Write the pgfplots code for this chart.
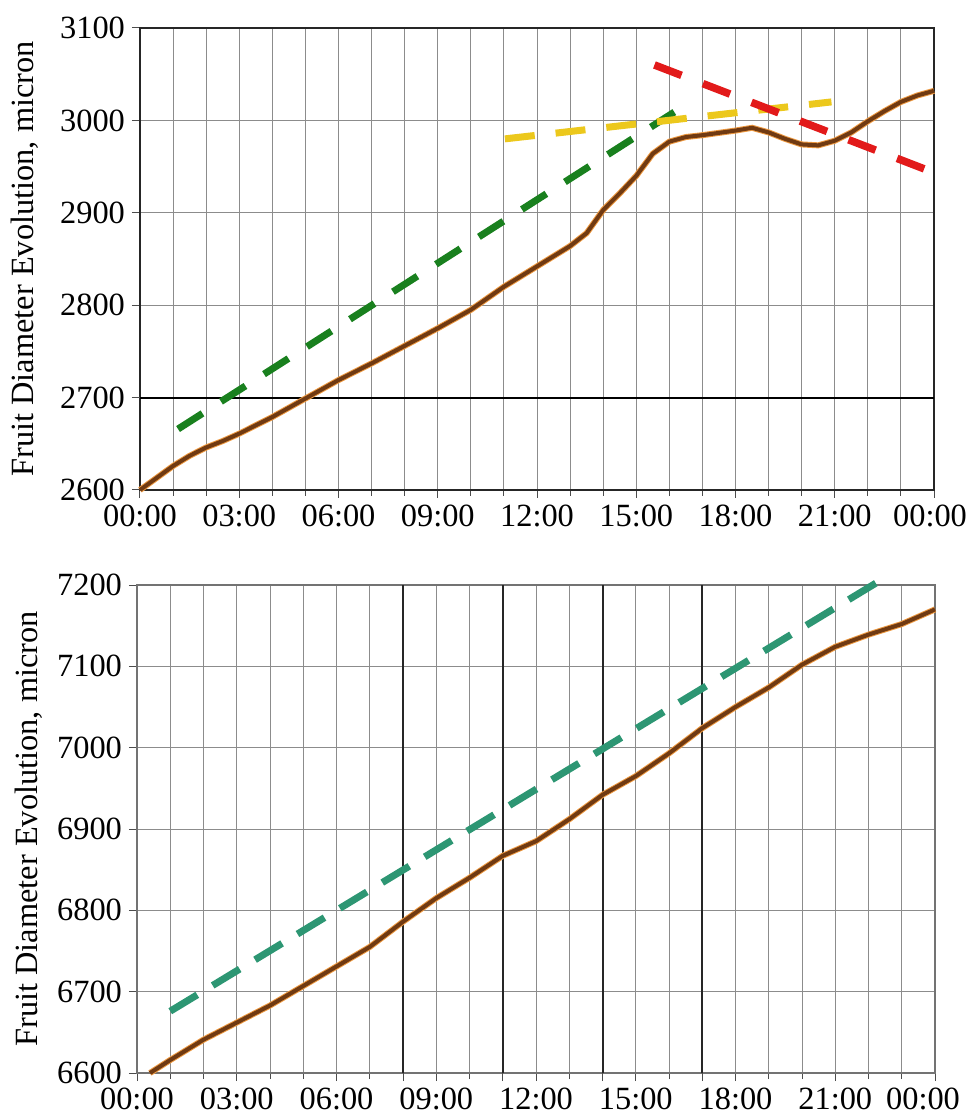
\documentclass[border=0pt]{standalone}
\usepackage{fontspec}
\setmainfont{Liberation Serif}
\usepackage{pgfplots}
\pgfplotsset{compat=1.18}
\definecolor{brownc}{RGB}{112,58,18}
\definecolor{orangec}{RGB}{236,152,64}
\definecolor{gridc}{RGB}{140,140,140}
\definecolor{dgreen}{RGB}{25,128,30}
\definecolor{goldc}{RGB}{236,200,28}
\definecolor{redc}{RGB}{226,26,26}
\definecolor{tealc}{RGB}{45,150,115}
\newcommand{\f}{\fontsize{16.2}{18}\selectfont}
\pgfplotsset{myax/.style={
  scale only axis, xmin=0, xmax=24, xtick={0,3,...,24},
  minor x tick num=2,
  tick pos=left, tick align=outside, major tick length=4pt, minor tick length=3pt,
  xmajorgrids, xminorgrids, ymajorgrids,
  grid style={gridc, line width=0.5pt},
  minor grid style={gridc, line width=0.5pt},
  major grid style={gridc, line width=0.5pt},
  tick style={black!70, line width=0.5pt},
  tick label style={font=\f},
  /pgf/number format/assume math mode=true,
  /pgf/number format/1000 sep={},
  ylabel={Fruit Diameter Evolution, micron},
  every axis y label/.style={at={(axis description cs:0,0.5)}, font=\f, anchor=center, xshift=-52pt, rotate=90},
}}
\begin{document}
\begin{tikzpicture}
\useasboundingbox (0,0) rectangle (484.5pt,-558.5pt);
% ---------- top ----------
\begin{axis}[myax, at={(70pt,-14pt)}, anchor=north west, width=397pt, height=231pt,
  ymin=2600, ymax=3100, ytick={2600,2700,...,3100}, clip=false,
  xticklabels={00:00,03:00,06:00,09:00,12:00,15:00,18:00,21:00,\hspace*{-4pt}00:00},
  axis line style={black!85, line width=1pt},
  extra y ticks={2700}, extra y tick labels={},
  extra y tick style={grid=major, major grid style={black, line width=1pt}},
  every axis y label/.append style={yshift=5.5pt}]
\addplot[orangec, line width=3pt] coordinates {
(0,2600) (0.5,2613) (1,2626) (1.5,2637) (2,2646) (2.5,2653) (3,2661) (4,2679) (5,2699)
(6,2719) (7,2737) (8,2756) (9,2775) (10,2795) (11,2820) (12,2842) (13,2864) (13.5,2878)
(14,2903) (14.5,2921) (15,2940) (15.5,2964) (16,2977) (16.5,2982) (17,2984) (18,2989)
(18.5,2992) (19,2987) (19.5,2980) (20,2974) (20.5,2973) (21,2978) (21.5,2987) (22,2999)
(22.5,3010) (23,3020) (23.5,3027) (24,3032)};
\addplot[brownc, line width=2pt] coordinates {
(0,2600) (0.5,2613) (1,2626) (1.5,2637) (2,2646) (2.5,2653) (3,2661) (4,2679) (5,2699)
(6,2719) (7,2737) (8,2756) (9,2775) (10,2795) (11,2820) (12,2842) (13,2864) (13.5,2878)
(14,2903) (14.5,2921) (15,2940) (15.5,2964) (16,2977) (16.5,2982) (17,2984) (18,2989)
(18.5,2992) (19,2987) (19.5,2980) (20,2974) (20.5,2973) (21,2978) (21.5,2987) (22,2999)
(22.5,3010) (23,3020) (23.5,3027) (24,3032)};
\addplot[dgreen, line width=3.5pt, dash pattern=on 14.5pt off 11pt] coordinates {(1.15,2666) (16.15,3009)};
\addplot[goldc, line width=3.5pt, dash pattern=on 15pt off 10.5pt] coordinates {(11.03,2980) (20.9,3020)};
\addplot[redc, line width=3.8pt, dash pattern=on 14.5pt off 11.5pt] coordinates {(15.55,3060) (24.25,2940)};
\end{axis}
% ---------- bottom ----------
\begin{axis}[myax, at={(68.5pt,-292.5pt)}, anchor=north west, width=399pt, height=244pt,
  ymin=6600, ymax=7200, ytick={6600,6700,...,7200}, clip=false,
  xticklabels={00:00,03:00,06:00,09:00,12:00,15:00,18:00,21:00,\hspace*{-12pt}00:00},
  axis line style={black!55, line width=0.7pt},
  extra x ticks={8,11,14,17}, extra x tick labels={},
  extra x tick style={grid=major, major grid style={black!85, line width=1pt}},
  every axis y label/.append style={yshift=2pt}]
\addplot[orangec, line width=3pt] coordinates {
(0.39,6600) (1,6616) (2,6641) (3,6662) (4,6683) (5,6707) (6,6731) (7,6755) (8,6786)
(9,6815) (10,6840) (11,6867) (12,6885) (13,6912) (14,6942) (15,6965) (16,6993)
(17,7024) (18,7050) (19,7074) (20,7102) (21,7124) (22,7139) (23,7152) (24,7170)};
\addplot[brownc, line width=2pt] coordinates {
(0.39,6600) (1,6616) (2,6641) (3,6662) (4,6683) (5,6707) (6,6731) (7,6755) (8,6786)
(9,6815) (10,6840) (11,6867) (12,6885) (13,6912) (14,6942) (15,6965) (16,6993)
(17,7024) (18,7050) (19,7074) (20,7102) (21,7124) (22,7139) (23,7152) (24,7170)};
\addplot[tealc, line width=3.5pt, dash pattern=on 15.8pt off 9pt] coordinates {(1.0,6676) (22.25,7203)};
\end{axis}
\end{tikzpicture}
\end{document}
